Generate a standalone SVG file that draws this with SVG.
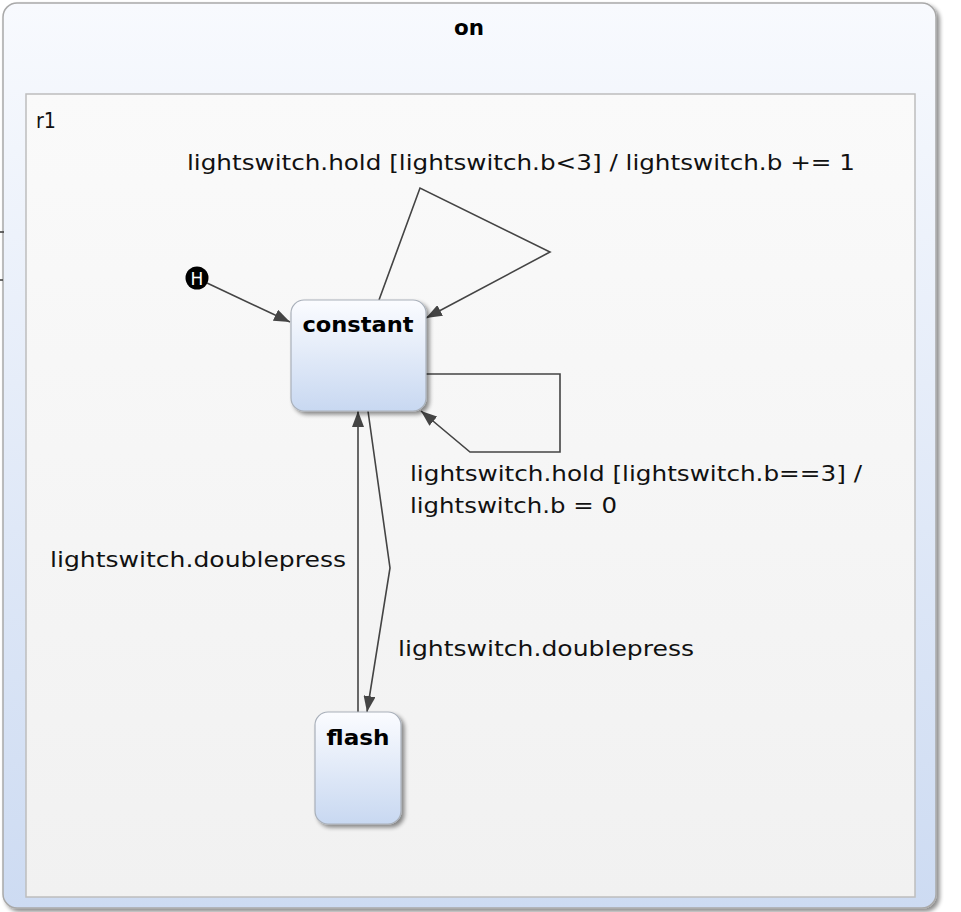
<svg xmlns="http://www.w3.org/2000/svg" width="961" height="912" viewBox="0 0 961 912">
  <defs>
    <linearGradient id="outerFill" x1="0" y1="0" x2="0" y2="1">
      <stop offset="0" stop-color="#f8fafe"/>
      <stop offset="1" stop-color="#cddbf2"/>
    </linearGradient>
    <linearGradient id="regionFill" x1="0" y1="0" x2="0" y2="1">
      <stop offset="0" stop-color="#fafafa"/>
      <stop offset="1" stop-color="#f1f1f1"/>
    </linearGradient>
    <linearGradient id="stateFill" x1="0" y1="0" x2="0" y2="1">
      <stop offset="0" stop-color="#fbfcff"/>
      <stop offset="1" stop-color="#c8d8f1"/>
    </linearGradient>
    <filter id="shadow" x="-10%" y="-10%" width="130%" height="130%">
      <feGaussianBlur in="SourceAlpha" stdDeviation="2"/>
      <feOffset dx="3" dy="3" result="b"/>
      <feComponentTransfer><feFuncA type="linear" slope="0.45"/></feComponentTransfer>
      <feMerge><feMergeNode/><feMergeNode in="SourceGraphic"/></feMerge>
    </filter>
    <marker id="arrow" viewBox="0 0 16 12" refX="16" refY="6" markerWidth="16" markerHeight="12" markerUnits="userSpaceOnUse" orient="auto">
      <path d="M0,0 L16,6 L0,12 Z" fill="#444"/>
    </marker>
  </defs>
  <style>
    .lbl { font-family: "DejaVu Sans", Verdana, sans-serif; font-size: 21px; fill: #111; }
    .title { font-family: "DejaVu Sans", Verdana, sans-serif; font-size: 21px; font-weight: bold; fill: #000; }
    .state { fill: url(#stateFill); stroke: #a9b0ba; stroke-width: 1.2; filter: url(#shadow); }
    .edge { fill: none; stroke: #444; stroke-width: 1.6; }
  </style>

  <rect width="961" height="912" fill="#ffffff"/>

  <!-- composite state "on" -->
  <g id="on">
    <rect x="3" y="3" width="933" height="905" rx="14" fill="url(#outerFill)" stroke="#a9a9a9" stroke-width="1.5" filter="url(#shadow)"/>
    <text class="title" x="469" y="35" text-anchor="middle" textLength="30" lengthAdjust="spacingAndGlyphs">on</text>
  </g>

  <!-- region r1 -->
  <g id="r1">
    <rect x="26" y="94" width="889" height="803" fill="url(#regionFill)" stroke="#bdbdbd" stroke-width="1.5"/>
    <text class="lbl" x="36" y="128" textLength="20" lengthAdjust="spacingAndGlyphs">r1</text>
  </g>

  <!-- connectors -->
  <g id="connectors">
    <line class="edge" x1="0" y1="232" x2="4" y2="232"/>
    <line class="edge" x1="0" y1="280" x2="3" y2="280"/>
    <polyline class="edge" points="207,283 290,322" marker-end="url(#arrow)"/>
    <polyline class="edge" points="379,300 420,188 550,252 426,318" marker-end="url(#arrow)"/>
    <polyline class="edge" points="426,374 560,374 560,452 470,452 421,411" marker-end="url(#arrow)"/>
    <polyline class="edge" points="368,411 390,568 367,712" marker-end="url(#arrow)"/>
    <polyline class="edge" points="358,712 358,411" marker-end="url(#arrow)"/>
    <text class="lbl" x="187" y="170" textLength="668" lengthAdjust="spacingAndGlyphs">lightswitch.hold [lightswitch.b&lt;3] / lightswitch.b += 1</text>
    <text class="lbl" x="410" y="481" textLength="452" lengthAdjust="spacingAndGlyphs">lightswitch.hold [lightswitch.b==3] /</text>
    <text class="lbl" x="410" y="513" textLength="207" lengthAdjust="spacingAndGlyphs">lightswitch.b = 0</text>
    <text class="lbl" x="50" y="567" textLength="296" lengthAdjust="spacingAndGlyphs">lightswitch.doublepress</text>
    <text class="lbl" x="398" y="656" textLength="296" lengthAdjust="spacingAndGlyphs">lightswitch.doublepress</text>
  </g>

  <!-- shallow history -->
  <g id="history">
    <circle cx="197" cy="278" r="11.5" fill="#000"/>
    <text x="197" y="284.5" text-anchor="middle" font-family="DejaVu Sans, sans-serif" font-size="17" fill="#fff">H</text>
  </g>

  <!-- state constant -->
  <g id="constant">
    <rect class="state" x="291" y="300" width="135" height="111" rx="13"/>
    <text class="title" x="358" y="332" text-anchor="middle" textLength="111" lengthAdjust="spacingAndGlyphs">constant</text>
  </g>

  <!-- state flash -->
  <g id="flash">
    <rect class="state" x="315" y="712" width="86" height="112" rx="13"/>
    <text class="title" x="358" y="745" text-anchor="middle" textLength="63" lengthAdjust="spacingAndGlyphs">flash</text>
  </g>
</svg>
